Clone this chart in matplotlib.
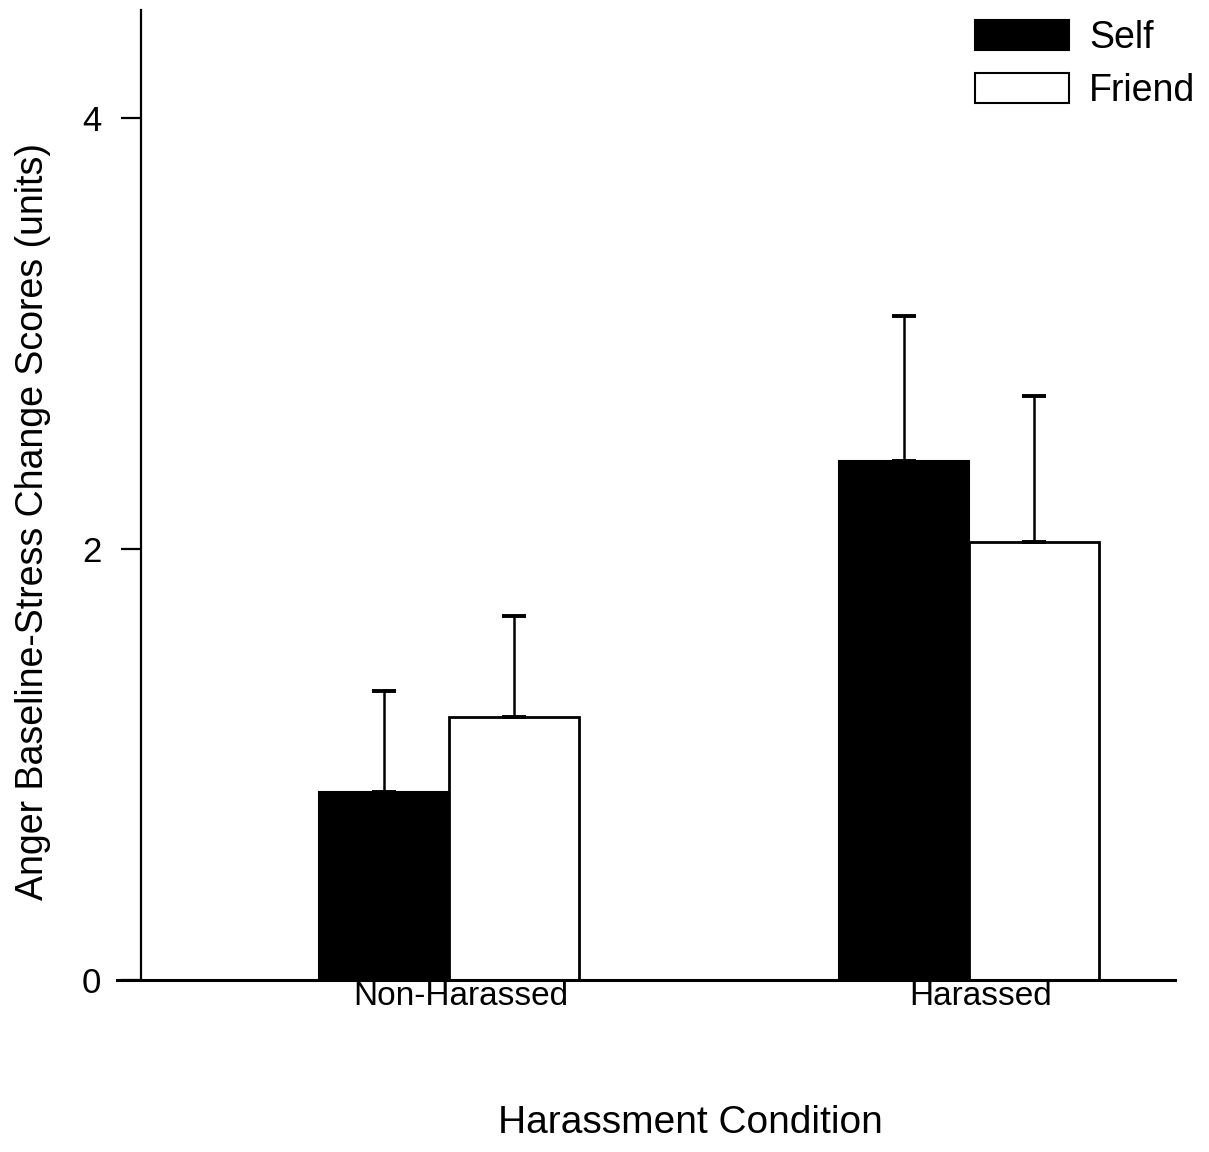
import matplotlib
matplotlib.use("Agg")
import matplotlib.pyplot as plt
import matplotlib.transforms as mtransforms
from matplotlib.patches import Rectangle
import numpy as np

plt.rcParams['font.family'] = ['Liberation Sans', 'DejaVu Sans']

# ---- data ----
categories = ["Non-Harassed", "Harassed"]
series_names = ["Self", "Friend"]
self_vals = [0.87, 2.41]
friend_vals = [1.22, 2.03]
self_err = [0.47, 0.67]
friend_err = [0.47, 0.68]
yticks = [0, 2, 4]
y_label = "Anger Baseline-Stress Change Scores (units)"
x_label = "Harassment Condition"

W, H = 1209, 1152
fig = plt.figure(figsize=(W / 100, H / 100), dpi=100)
ax = fig.add_axes([141 / W, 1 - 980 / H, (1175 - 141) / W, (980 - 10) / H])

x = np.arange(len(categories))
w = 0.25

ax.bar(x - w / 2, self_vals, w, color="black", edgecolor="black", linewidth=1.5, zorder=2)
ax.bar(x + w / 2, friend_vals, w, color="white", edgecolor="black", linewidth=2.0, zorder=2)

zeros = np.zeros(len(categories))
ax.errorbar(x - w / 2, self_vals, yerr=[zeros, self_err], fmt="none", ecolor="black",
            elinewidth=1.8, capsize=8.5, capthick=2.8, zorder=3)
ax.errorbar(x + w / 2, friend_vals, yerr=[zeros, friend_err], fmt="none", ecolor="black",
            elinewidth=1.8, capsize=8.5, capthick=2.8, zorder=3)

ax.set_xlim(-0.592, 1.396)
ax.set_ylim(0, 4.5)

for s in ["top", "right", "bottom"]:
    ax.spines[s].set_visible(False)
ax.spines["left"].set_linewidth(1.6)
ax.axhline(0, xmin=-0.023, xmax=1.0, color="black", linewidth=2.2, clip_on=False, zorder=4)

ax.set_yticks(yticks)
ax.set_yticklabels([str(t) for t in yticks], fontsize=25)
ax.tick_params(axis="y", direction="out", length=14.5, width=1.6, pad=14)

ax.set_xticks(x)
ax.set_xticklabels(categories, fontsize=24)
ax.tick_params(axis="x", length=0, pad=1)
offset = mtransforms.ScaledTranslation(12 / 100, 0, fig.dpi_scale_trans)
for lab in ax.get_xticklabels():
    lab.set_transform(lab.get_transform() + offset)

ax.set_ylabel(y_label, fontsize=27, va="center")
ax.yaxis.set_label_coords((33 - 141) / 1034, (980 - 521) / 970)
ax.set_xlabel(x_label, fontsize=28, va="center")
ax.xaxis.set_label_coords((690 - 141) / 1034, (980 - 1123) / 970)

handles = [Rectangle((0, 0), 1, 1, facecolor="black", edgecolor="black", linewidth=1.5),
           Rectangle((0, 0), 1, 1, facecolor="white", edgecolor="black", linewidth=1.5)]
fig.legend(handles, series_names, loc="upper left",
           bbox_to_anchor=(975 / W, 1 - 20 / H), frameon=False, fontsize=27,
           handlelength=2.5, handleheight=0.85, handletextpad=0.55,
           labelspacing=0.45, borderpad=0, borderaxespad=0)

fig.savefig("out.png", dpi=100)
